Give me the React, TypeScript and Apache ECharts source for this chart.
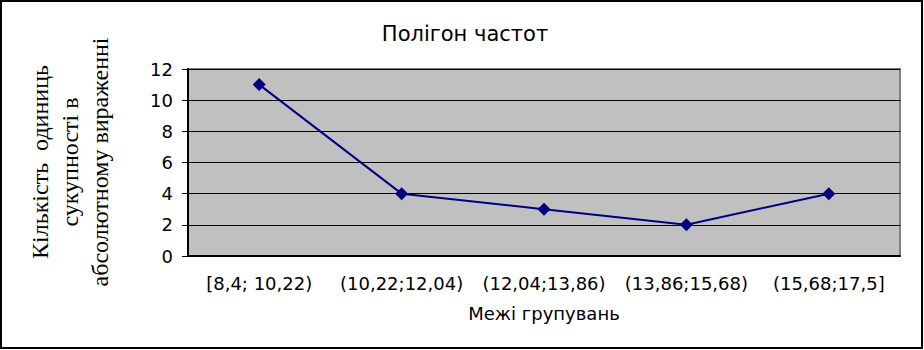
import React, { useEffect, useRef } from "react";
import * as echarts from "echarts";

const categories = ["[8,4; 10,22)", "(10,22;12,04)", "(12,04;13,86)", "(13,86;15,68)", "(15,68;17,5]"];
const frequencies = [11, 4, 3, 2, 4];
const titleText = "Полігон частот";
const xAxisTitle = "Межі групувань";
const yAxisTitle = "Кількість  одиниць\nсукупності в\nабсолютному вираженні";

export default function App() {
  const ref = useRef<HTMLDivElement>(null);
  useEffect(() => {
    if (!ref.current) return;
    const chart = echarts.init(ref.current, undefined, { renderer: "svg" });
    chart.setOption({
      animation: false,
      backgroundColor: "#ffffff",
      title: {
        text: titleText,
        left: 460,
        top: 18,
        textAlign: "center",
        textStyle: { fontFamily: "DejaVu Sans", fontSize: 21, fontWeight: "normal", color: "#000" },
      },
      grid: {
        left: 188,
        right: 24,
        top: 69,
        bottom: 94,
        show: true,
        backgroundColor: "#C0C0C0",
        borderColor: "#808080",
        borderWidth: 2,
      },
      xAxis: {
        type: "category",
        data: categories,
        boundaryGap: true,
        name: xAxisTitle,
        nameLocation: "middle",
        nameGap: 48,
        nameTextStyle: { fontFamily: "DejaVu Sans", fontSize: 18, color: "#000" },
        axisLine: { show: true, lineStyle: { color: "#000", width: 2 } },
        axisTick: { show: false },
        axisLabel: { fontFamily: "DejaVu Sans", fontSize: 18, color: "#000", margin: 18, interval: 0 },
        splitLine: { show: false },
      },
      yAxis: {
        type: "value",
        min: 0,
        max: 12,
        interval: 2,
        axisLine: { show: true, lineStyle: { color: "#000", width: 2 } },
        axisTick: { show: true, length: 6, lineStyle: { color: "#000", width: 1 } },
        axisLabel: { fontFamily: "DejaVu Sans", fontSize: 18, color: "#000", margin: 15 },
        splitLine: { show: true, lineStyle: { color: "#000", width: 1 } },
      },
      graphic: [
        {
          type: "text",
          x: 70,
          y: 162,
          rotation: Math.PI / 2,
          style: {
            text: yAxisTitle,
            fontFamily: "Liberation Serif",
            fontSize: 24,
            lineHeight: 30,
            fill: "#000",
            align: "center",
            verticalAlign: "middle",
          },
        },
        {
          type: "rect",
          shape: { x: 1, y: 1, width: 921, height: 347 },
          style: { fill: "none", stroke: "#000", lineWidth: 2 },
          silent: true,
        },
      ],
      series: [
        {
          type: "line",
          data: frequencies,
          symbol: "diamond",
          symbolSize: 13,
          itemStyle: { color: "#000080" },
          lineStyle: { color: "#000080", width: 2 },
        },
      ],
    });
    return () => chart.dispose();
  }, []);
  return <div ref={ref} style={{ position: "fixed", left: 0, top: 0, width: 924, height: 350 }} />;
}
